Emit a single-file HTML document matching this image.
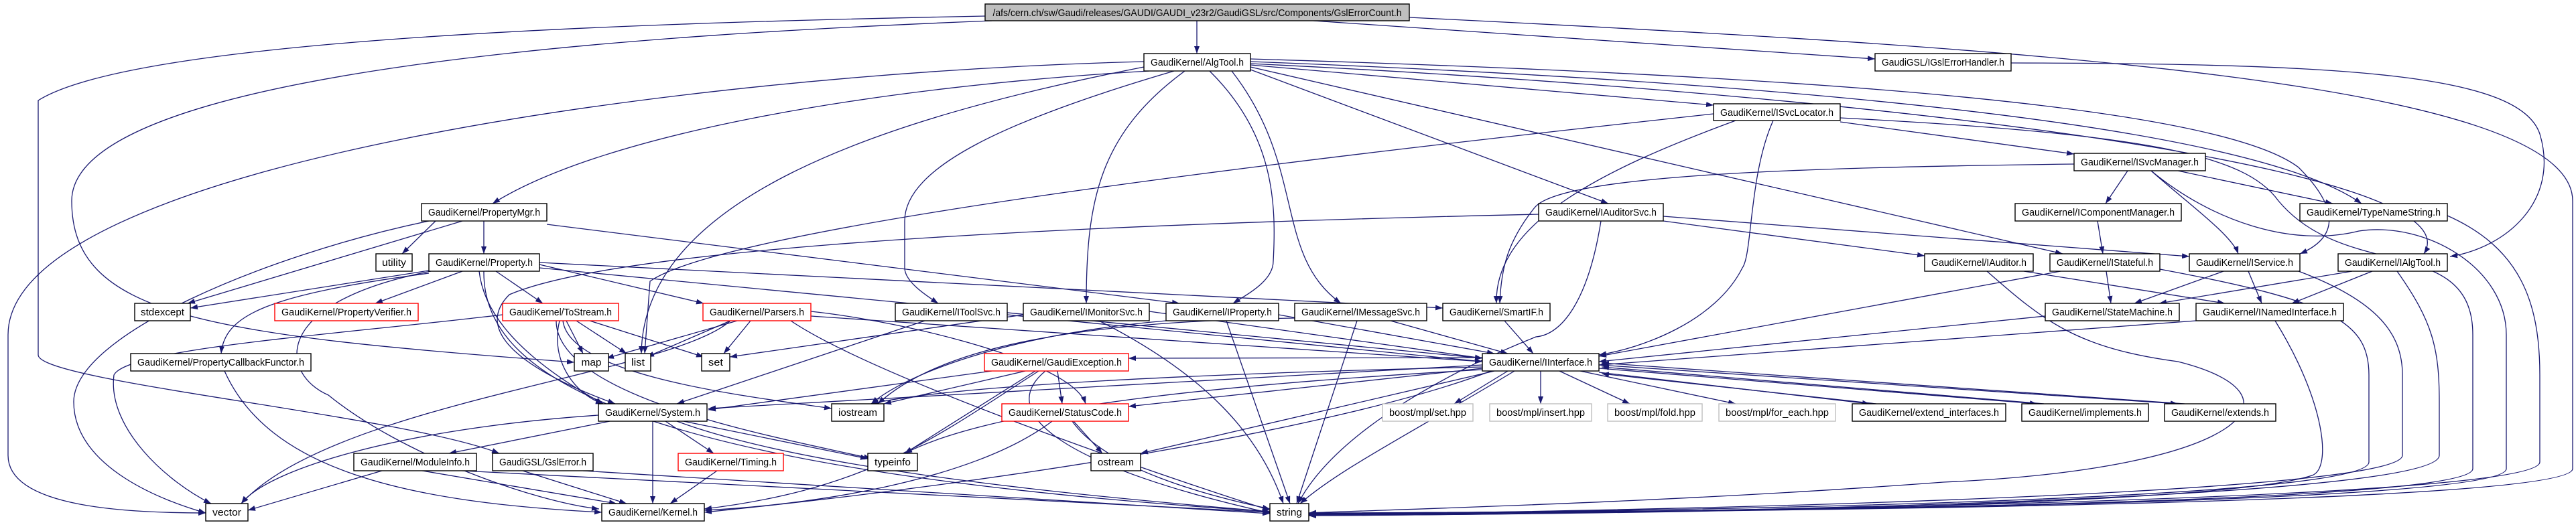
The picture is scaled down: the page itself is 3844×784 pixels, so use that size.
<!DOCTYPE html>
<html><head><meta charset="utf-8"><style>
html,body{margin:0;padding:0;background:#fff;}
svg{display:block;}
text{font-family:"Liberation Sans",sans-serif;font-size:15px;fill:#000;}
.e{fill:none;stroke:#191970;stroke-width:1.3;marker-end:url(#a);}
.n{fill:#fff;stroke:#000;stroke-width:1.4;}
.r{fill:#fff;stroke:#ff0000;stroke-width:1.4;}
.g{fill:#fff;stroke:#bfbfbf;stroke-width:1.4;}
</style></head><body>
<svg width="3844" height="784" viewBox="0 0 3844 784" xmlns="http://www.w3.org/2000/svg">
<defs><marker id="a" markerUnits="userSpaceOnUse" markerWidth="12" markerHeight="8" refX="11" refY="4" orient="auto"><path d="M0,0 L11,4 L0,8 z" fill="#191970"/></marker></defs>
<g>
<path class="e" d="M1786 31 L1786 80"/>
<path class="e" d="M1960 31 L2798 88"/>
<path class="e" d="M1470 24 C900 35 200 60 57 150 L57 530 C57 570 600 620 745 677"/>
<path class="e" d="M1480 31 C1000 50 107 100 107 300 C107 470 300 500 857 541"/>
<path class="e" d="M2103 26 C3000 70 3839 120 3839 300 L3839 700 C3839 760 2300 765 1953 768"/>
<path class="e" d="M3001 94 C3500 95 3760 110 3790 200 C3820 300 3740 370 3656 383"/>
<path class="e" d="M3652 322 C3760 370 3790 450 3790 560 L3790 690 C3790 750 2400 766 1953 769"/>
<path class="e" d="M1707 92 C1000 110 12 250 12 500 L12 680 C12 760 200 766 307 766"/>
<path class="e" d="M1715 106 C1300 130 900 200 735 304"/>
<path class="e" d="M1752 106 C1500 180 1350 250 1350 330 L1350 400 C1350 420 1380 440 1400 453"/>
<path class="e" d="M1768 106 C1640 200 1621 300 1621 453"/>
<path class="e" d="M1805 106 C1900 200 1905 300 1900 390 C1900 420 1860 440 1840 453"/>
<path class="e" d="M1838 106 C1950 250 1900 380 2001 453"/>
<path class="e" d="M1866 97 L2557 157"/>
<path class="e" d="M1866 104 L2400 304"/>
<path class="e" d="M1707 100 C1300 180 960 300 957 528"/>
<path class="e" d="M1866 100 L3078 379"/>
<path class="e" d="M1866 88 C2600 110 3300 150 3430 250 C3480 300 3500 350 3432 379"/>
<path class="e" d="M1866 92 C2600 120 3350 180 3524 304"/>
<path class="e" d="M1866 95 C2800 140 3700 250 3617 379"/>
<path class="e" d="M2557 170 C2100 220 1100 330 970 420 L962 528"/>
<path class="e" d="M2590 180 C2400 250 2230 330 2233 453"/>
<path class="e" d="M2646 180 C2610 260 2615 380 2600 400 C2560 480 2450 520 2386 530"/>
<path class="e" d="M2746 182 L3095 230"/>
<path class="e" d="M2746 176 C3200 200 3350 230 3400 300 C3500 420 3690 350 3690 500 L3690 700 C3690 760 2300 765 1953 766"/>
<path class="e" d="M3175 255 L3142 304"/>
<path class="e" d="M3210 255 C3260 300 3330 350 3340 379"/>
<path class="e" d="M3250 255 L3481 304"/>
<path class="e" d="M3210 255 C3300 330 3420 370 3520 345 C3620 330 3740 400 3740 500 L3740 700 C3740 760 2300 765 1953 767"/>
<path class="e" d="M3095 245 C2700 250 2330 260 2290 310 C2250 360 2240 400 2238 453"/>
<path class="e" d="M2482 323 L3267 383"/>
<path class="e" d="M2482 330 L2872 382"/>
<path class="e" d="M2389 330 C2370 450 2330 500 2292 503 C2150 560 1990 650 1937 752"/>
<path class="e" d="M2296 320 C1400 340 900 380 760 440 C700 500 800 560 918 603"/>
<path class="e" d="M3130 330 L3138 379"/>
<path class="e" d="M3020 405 L3320 453"/>
<path class="e" d="M2965 405 C3050 480 3100 520 3250 540 C3450 590 3350 700 2900 720 C2500 750 2100 760 1953 766"/>
<path class="e" d="M3143 405 L3150 453"/>
<path class="e" d="M3075 405 L2386 532"/>
<path class="e" d="M3223 402 C3480 450 3535 480 3535 560 L3535 690 C3535 750 2400 765 1953 767"/>
<path class="e" d="M3318 405 L3185 453"/>
<path class="e" d="M3355 405 L3375 453"/>
<path class="e" d="M3430 405 C3550 450 3585 500 3585 560 L3585 680 C3585 740 2400 765 1953 768"/>
<path class="e" d="M3510 405 L3222 453"/>
<path class="e" d="M3540 405 L3420 453"/>
<path class="e" d="M3577 405 C3630 480 3640 520 3640 600 L3640 680 C3640 750 2400 768 1953 770"/>
<path class="e" d="M3052 472 L2386 540"/>
<path class="e" d="M3277 479 L2386 545"/>
<path class="e" d="M3395 479 C3470 600 3480 700 3450 710 C3300 760 2300 768 1953 770"/>
<path class="e" d="M2250 554 L2170 603"/>
<path class="e" d="M2299 554 L2299 603"/>
<path class="e" d="M2327 554 L2432 603"/>
<path class="e" d="M2358 554 L2590 603"/>
<path class="e" d="M2386 556 L2790 603"/>
<path class="e" d="M2800 603 L2390 558"/>
<path class="e" d="M2386 550 L3040 603"/>
<path class="e" d="M3050 603 L2390 548"/>
<path class="e" d="M2386 545 L3250 603"/>
<path class="e" d="M3260 603 L2390 542"/>
<path class="e" d="M2212 545 L1057 610"/>
<path class="e" d="M2212 548 C1700 560 1400 580 1300 603"/>
<path class="e" d="M2212 550 L1684 607"/>
<path class="e" d="M2212 552 C1900 570 1500 600 1350 677"/>
<path class="e" d="M2230 554 L1702 677"/>
<path class="e" d="M2225 554 C2000 640 1500 720 1051 765"/>
<path class="e" d="M2260 554 C2100 650 2000 700 1940 752"/>
<path class="e" d="M2212 534 L1684 535"/>
<path class="e" d="M1503 470 L2212 540"/>
<path class="e" d="M1715 465 L2212 535"/>
<path class="e" d="M1908 470 L2230 528"/>
<path class="e" d="M2075 479 L2250 528"/>
<path class="e" d="M2245 479 L2288 528"/>
<path class="e" d="M1210 472 L2212 540"/>
<path class="e" d="M1380 479 L1010 603"/>
<path class="e" d="M1527 470 L1089 533"/>
<path class="e" d="M1640 479 C1800 560 1880 650 1915 752"/>
<path class="e" d="M1740 479 C1500 500 1350 560 1300 603"/>
<path class="e" d="M1830 479 L1925 752"/>
<path class="e" d="M2025 479 L1935 752"/>
<path class="e" d="M1932 475 C1600 480 1400 520 1310 603"/>
<path class="e" d="M1480 554 L1057 612"/>
<path class="e" d="M1530 554 L1319 603"/>
<path class="e" d="M1578 554 L1585 603"/>
<path class="e" d="M1550 554 C1400 650 1300 730 1051 760"/>
<path class="e" d="M1560 554 C1480 620 1600 700 1895 766"/>
<path class="e" d="M1545 554 L1350 677"/>
<path class="e" d="M1602 629 L1645 677"/>
<path class="e" d="M1570 629 C1450 720 1200 755 1051 762"/>
<path class="e" d="M1600 629 C1650 700 1800 740 1895 760"/>
<path class="e" d="M910 629 L670 677"/>
<path class="e" d="M993 629 L1065 677"/>
<path class="e" d="M974 629 L974 752"/>
<path class="e" d="M1020 629 L1295 685"/>
<path class="e" d="M893 620 C600 640 400 700 360 752"/>
<path class="e" d="M1010 629 C1200 700 1600 740 1895 764"/>
<path class="e" d="M1070 703 L1000 752"/>
<path class="e" d="M570 703 L370 762"/>
<path class="e" d="M630 703 L920 752"/>
<path class="e" d="M690 703 L1895 765"/>
<path class="e" d="M780 703 L935 752"/>
<path class="e" d="M870 703 L1895 767"/>
<path class="e" d="M335 554 C400 700 600 750 898 765"/>
<path class="e" d="M650 330 L600 379"/>
<path class="e" d="M722 330 L722 379"/>
<path class="e" d="M690 330 L280 453"/>
<path class="e" d="M640 330 C400 380 110 500 110 600 C110 700 250 750 307 766"/>
<path class="e" d="M816 335 L1760 453"/>
<path class="e" d="M640 404 L284 460"/>
<path class="e" d="M690 405 L560 453"/>
<path class="e" d="M740 405 L810 453"/>
<path class="e" d="M640 408 C400 440 335 470 330 528"/>
<path class="e" d="M643 405 C398 453 420 560 490 590 C600 680 800 750 894 760"/>
<path class="e" d="M722 405 C720 550 900 700 1895 764"/>
<path class="e" d="M805 395 L1050 453"/>
<path class="e" d="M805 392 L2153 460"/>
<path class="e" d="M805 400 L2212 535"/>
<path class="e" d="M715 405 C720 450 750 520 900 603"/>
<path class="e" d="M845 479 L870 528"/>
<path class="e" d="M860 479 L935 528"/>
<path class="e" d="M880 479 L1050 533"/>
<path class="e" d="M750 470 C500 500 190 520 170 560 C160 640 250 720 315 752"/>
<path class="e" d="M835 479 C820 540 860 590 900 603"/>
<path class="e" d="M840 479 C850 560 1100 590 1241 610"/>
<path class="e" d="M830 479 C830 600 1200 660 1300 685"/>
<path class="e" d="M1090 479 L965 533"/>
<path class="e" d="M1100 479 L905 535"/>
<path class="e" d="M1120 479 L1080 528"/>
<path class="e" d="M1090 479 C1000 560 500 600 360 752"/>
<path class="e" d="M1210 465 C1350 480 1600 540 1620 603"/>
<path class="e" d="M1180 479 C1300 560 1700 700 1895 762"/>
</g>
<g>
<rect x="1470" y="6" width="633" height="25" fill="#bfbfbf" stroke="#000" stroke-width="1.4"/><text x="1786.5" y="24" text-anchor="middle" textLength="610" lengthAdjust="spacingAndGlyphs">/afs/cern.ch/sw/Gaudi/releases/GAUDI/GAUDI_v23r2/GaudiGSL/src/Components/GslErrorCount.h</text>
<rect class="n" x="1707" y="80" width="159" height="26"/><text x="1786.5" y="98" text-anchor="middle" textLength="139" lengthAdjust="spacingAndGlyphs">GaudiKernel/AlgTool.h</text>
<rect class="n" x="2798" y="80" width="203" height="26"/><text x="2899.5" y="98" text-anchor="middle" textLength="183" lengthAdjust="spacingAndGlyphs">GaudiGSL/IGslErrorHandler.h</text>
<rect class="n" x="2557" y="155" width="189" height="25"/><text x="2651.5" y="173" text-anchor="middle" textLength="169" lengthAdjust="spacingAndGlyphs">GaudiKernel/ISvcLocator.h</text>
<rect class="n" x="3095" y="229" width="196" height="26"/><text x="3193" y="247" text-anchor="middle" textLength="176" lengthAdjust="spacingAndGlyphs">GaudiKernel/ISvcManager.h</text>
<rect class="n" x="629" y="304" width="187" height="26"/><text x="722.5" y="322" text-anchor="middle" textLength="167" lengthAdjust="spacingAndGlyphs">GaudiKernel/PropertyMgr.h</text>
<rect class="n" x="2296" y="304" width="186" height="26"/><text x="2389" y="322" text-anchor="middle" textLength="166" lengthAdjust="spacingAndGlyphs">GaudiKernel/IAuditorSvc.h</text>
<rect class="n" x="3007" y="304" width="248" height="26"/><text x="3131" y="322" text-anchor="middle" textLength="228" lengthAdjust="spacingAndGlyphs">GaudiKernel/IComponentManager.h</text>
<rect class="n" x="3432" y="304" width="220" height="26"/><text x="3542" y="322" text-anchor="middle" textLength="200" lengthAdjust="spacingAndGlyphs">GaudiKernel/TypeNameString.h</text>
<rect class="n" x="561" y="379" width="54" height="26"/><text x="588" y="397" text-anchor="middle" textLength="36" lengthAdjust="spacingAndGlyphs">utility</text>
<rect class="n" x="640" y="379" width="165" height="26"/><text x="722.5" y="397" text-anchor="middle" textLength="145" lengthAdjust="spacingAndGlyphs">GaudiKernel/Property.h</text>
<rect class="n" x="2872" y="379" width="162" height="26"/><text x="2953" y="397" text-anchor="middle" textLength="142" lengthAdjust="spacingAndGlyphs">GaudiKernel/IAuditor.h</text>
<rect class="n" x="3059" y="379" width="164" height="26"/><text x="3141" y="397" text-anchor="middle" textLength="144" lengthAdjust="spacingAndGlyphs">GaudiKernel/IStateful.h</text>
<rect class="n" x="3267" y="379" width="165" height="26"/><text x="3349.5" y="397" text-anchor="middle" textLength="145" lengthAdjust="spacingAndGlyphs">GaudiKernel/IService.h</text>
<rect class="n" x="3489" y="379" width="163" height="26"/><text x="3570.5" y="397" text-anchor="middle" textLength="143" lengthAdjust="spacingAndGlyphs">GaudiKernel/IAlgTool.h</text>
<rect class="n" x="201" y="453" width="83" height="26"/><text x="242.5" y="471" text-anchor="middle" textLength="65" lengthAdjust="spacingAndGlyphs">stdexcept</text>
<rect class="r" x="410" y="453" width="214" height="26"/><text x="517" y="471" text-anchor="middle" textLength="194" lengthAdjust="spacingAndGlyphs">GaudiKernel/PropertyVerifier.h</text>
<rect class="r" x="750" y="453" width="173" height="26"/><text x="836.5" y="471" text-anchor="middle" textLength="153" lengthAdjust="spacingAndGlyphs">GaudiKernel/ToStream.h</text>
<rect class="r" x="1049" y="453" width="161" height="26"/><text x="1129.5" y="471" text-anchor="middle" textLength="141" lengthAdjust="spacingAndGlyphs">GaudiKernel/Parsers.h</text>
<rect class="n" x="1336" y="453" width="167" height="26"/><text x="1419.5" y="471" text-anchor="middle" textLength="147" lengthAdjust="spacingAndGlyphs">GaudiKernel/IToolSvc.h</text>
<rect class="n" x="1527" y="453" width="188" height="26"/><text x="1621" y="471" text-anchor="middle" textLength="168" lengthAdjust="spacingAndGlyphs">GaudiKernel/IMonitorSvc.h</text>
<rect class="n" x="1740" y="453" width="168" height="26"/><text x="1824" y="471" text-anchor="middle" textLength="148" lengthAdjust="spacingAndGlyphs">GaudiKernel/IProperty.h</text>
<rect class="n" x="1932" y="453" width="197" height="26"/><text x="2030.5" y="471" text-anchor="middle" textLength="177" lengthAdjust="spacingAndGlyphs">GaudiKernel/IMessageSvc.h</text>
<rect class="n" x="2153" y="453" width="160" height="26"/><text x="2233" y="471" text-anchor="middle" textLength="140" lengthAdjust="spacingAndGlyphs">GaudiKernel/SmartIF.h</text>
<rect class="n" x="3052" y="453" width="200" height="26"/><text x="3152" y="471" text-anchor="middle" textLength="180" lengthAdjust="spacingAndGlyphs">GaudiKernel/StateMachine.h</text>
<rect class="n" x="3277" y="453" width="220" height="26"/><text x="3387" y="471" text-anchor="middle" textLength="200" lengthAdjust="spacingAndGlyphs">GaudiKernel/INamedInterface.h</text>
<rect class="n" x="195" y="528" width="269" height="26"/><text x="329.5" y="546" text-anchor="middle" textLength="249" lengthAdjust="spacingAndGlyphs">GaudiKernel/PropertyCallbackFunctor.h</text>
<rect class="n" x="857" y="528" width="51" height="26"/><text x="882.5" y="546" text-anchor="middle" textLength="30" lengthAdjust="spacingAndGlyphs">map</text>
<rect class="n" x="933" y="528" width="38" height="26"/><text x="952" y="546" text-anchor="middle" textLength="20" lengthAdjust="spacingAndGlyphs">list</text>
<rect class="n" x="1047" y="528" width="42" height="26"/><text x="1068" y="546" text-anchor="middle" textLength="22" lengthAdjust="spacingAndGlyphs">set</text>
<rect class="r" x="1469" y="528" width="215" height="26"/><text x="1576.5" y="546" text-anchor="middle" textLength="195" lengthAdjust="spacingAndGlyphs">GaudiKernel/GaudiException.h</text>
<rect class="n" x="2212" y="528" width="174" height="26"/><text x="2299" y="546" text-anchor="middle" textLength="154" lengthAdjust="spacingAndGlyphs">GaudiKernel/IInterface.h</text>
<rect class="n" x="893" y="603" width="162" height="26"/><text x="974" y="621" text-anchor="middle" textLength="142" lengthAdjust="spacingAndGlyphs">GaudiKernel/System.h</text>
<rect class="n" x="1241" y="603" width="78" height="26"/><text x="1280" y="621" text-anchor="middle" textLength="58" lengthAdjust="spacingAndGlyphs">iostream</text>
<rect class="r" x="1495" y="603" width="189" height="26"/><text x="1589.5" y="621" text-anchor="middle" textLength="169" lengthAdjust="spacingAndGlyphs">GaudiKernel/StatusCode.h</text>
<rect class="g" x="2063" y="603" width="135" height="26"/><text x="2130.5" y="621" text-anchor="middle" textLength="115" lengthAdjust="spacingAndGlyphs">boost/mpl/set.hpp</text>
<rect class="g" x="2223" y="603" width="152" height="26"/><text x="2299" y="621" text-anchor="middle" textLength="132" lengthAdjust="spacingAndGlyphs">boost/mpl/insert.hpp</text>
<rect class="g" x="2399" y="603" width="141" height="26"/><text x="2469.5" y="621" text-anchor="middle" textLength="121" lengthAdjust="spacingAndGlyphs">boost/mpl/fold.hpp</text>
<rect class="g" x="2565" y="603" width="174" height="26"/><text x="2652" y="621" text-anchor="middle" textLength="154" lengthAdjust="spacingAndGlyphs">boost/mpl/for_each.hpp</text>
<rect class="n" x="2764" y="603" width="229" height="26"/><text x="2878.5" y="621" text-anchor="middle" textLength="209" lengthAdjust="spacingAndGlyphs">GaudiKernel/extend_interfaces.h</text>
<rect class="n" x="3017" y="603" width="189" height="26"/><text x="3111.5" y="621" text-anchor="middle" textLength="169" lengthAdjust="spacingAndGlyphs">GaudiKernel/implements.h</text>
<rect class="n" x="3230" y="603" width="166" height="26"/><text x="3313" y="621" text-anchor="middle" textLength="146" lengthAdjust="spacingAndGlyphs">GaudiKernel/extends.h</text>
<rect class="n" x="528" y="677" width="183" height="26"/><text x="619.5" y="695" text-anchor="middle" textLength="163" lengthAdjust="spacingAndGlyphs">GaudiKernel/ModuleInfo.h</text>
<rect class="n" x="735" y="677" width="150" height="26"/><text x="810" y="695" text-anchor="middle" textLength="130" lengthAdjust="spacingAndGlyphs">GaudiGSL/GslError.h</text>
<rect class="r" x="1012" y="677" width="157" height="26"/><text x="1090.5" y="695" text-anchor="middle" textLength="137" lengthAdjust="spacingAndGlyphs">GaudiKernel/Timing.h</text>
<rect class="n" x="1295" y="677" width="74" height="26"/><text x="1332" y="695" text-anchor="middle" textLength="54" lengthAdjust="spacingAndGlyphs">typeinfo</text>
<rect class="n" x="1628" y="677" width="74" height="26"/><text x="1665" y="695" text-anchor="middle" textLength="54" lengthAdjust="spacingAndGlyphs">ostream</text>
<rect class="n" x="307" y="752" width="63" height="26"/><text x="338.5" y="770" text-anchor="middle" textLength="43" lengthAdjust="spacingAndGlyphs">vector</text>
<rect class="n" x="898" y="752" width="153" height="26"/><text x="974.5" y="770" text-anchor="middle" textLength="133" lengthAdjust="spacingAndGlyphs">GaudiKernel/Kernel.h</text>
<rect class="n" x="1895" y="752" width="58" height="26"/><text x="1924" y="770" text-anchor="middle" textLength="38" lengthAdjust="spacingAndGlyphs">string</text>
</g>
</svg>
</body></html>
